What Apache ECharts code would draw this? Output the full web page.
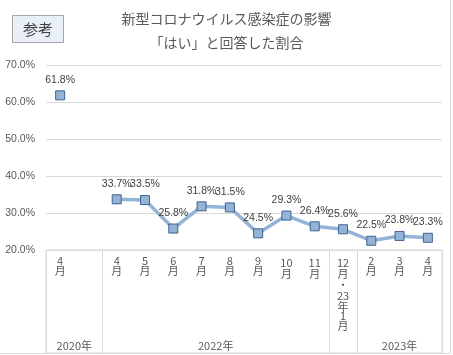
<!DOCTYPE html>
<html>
<head>
<meta charset="utf-8">
<script src="https://cdn.jsdelivr.net/npm/echarts@6/dist/echarts.min.js"></script>
<style>html,body{margin:0;padding:0;background:#fff}#c{width:453px;height:355px}</style>
</head>
<body>
<div id="c"></div>
<script>
// Data
var months = ['4月', '', '4月', '5月', '6月', '7月', '8月', '9月', '10月', '11月', '12月・23年1月', '2月', '3月', '4月'];
var values = [61.8, null, 33.7, 33.5, 25.8, 31.8, 31.5, 24.5, 29.3, 26.4, 25.6, 22.5, 23.8, 23.3];
var groupNames = ['2020年', '2022年', '', '2023年'];
var groupSizes = [2, 8, 1, 3];
var yTicks = [20, 30, 40, 50, 60, 70];
var titleLines = ['新型コロナウイルス感染症の影響', '「はい」と回答した割合'];
var badgeText = '参考';

// derived group boundaries & centres
var boundaries = [0];
var centres = {};
var acc = 0;
groupSizes.forEach(function (s, i) {
  centres[(acc + s / 2).toFixed(1)] = groupNames[i];
  acc += s;
  boundaries.push(acc);
});

function vertical(t) {
  var toks = t.match(/\d+|./g) || [];
  return toks.map(function (k) {
    if (/^\d+$/.test(k)) return '{d' + Math.min(k.length, 2) + '|' + k + '}';
    return '{c|' + k + '}';
  }).join('\n');
}

var CJK = "'Noto Sans CJK JP', sans-serif";
var NUM = "'Liberation Sans', Arial, sans-serif";
var lblBase = {fontFamily: CJK, fontSize: 11, color: '#595959', align: 'center'};

var chart = echarts.init(document.getElementById('c'), null, {renderer: 'canvas'});
chart.setOption({
  animation: false,
  backgroundColor: '#fff',
  title: [{
    text: titleLines.join('\n'),
    left: 'center',
    top: 7,
    padding: 0,
    textStyle: {fontFamily: CJK, fontSize: 14, fontWeight: 'normal', color: '#595959', lineHeight: 24}
  }, {
    text: badgeText,
    left: 12,
    top: 15,
    padding: [6, 11, 6, 11],
    backgroundColor: '#e9eff7',
    borderColor: '#a6a6a6',
    borderWidth: 1,
    textStyle: {fontFamily: CJK, fontSize: 15, fontWeight: 'normal', color: '#404040', lineHeight: 16}
  }],
  graphic: [{
    type: 'rect',
    shape: {x: -1, y: -1, width: 451.5, height: 354.5},
    style: {fill: null, stroke: '#d9d9d9', lineWidth: 1},
    silent: true
  }],
  grid: [
    {left: 46, top: 65, width: 396, height: 185},
    {left: 46, top: 250, width: 396, height: 103, show: true, borderColor: '#d9d9d9', borderWidth: 1, backgroundColor: 'transparent'}
  ],
  xAxis: [{
    type: 'category',
    gridIndex: 0,
    data: months,
    boundaryGap: true,
    axisLine: {show: true, lineStyle: {color: '#d9d9d9'}},
    axisTick: {show: false},
    axisLabel: {
      interval: 0,
      margin: 7,
      fontFamily: CJK,
      fontSize: 11,
      color: '#595959',
      formatter: function (v) { return vertical(v); },
      rich: {
        d1: Object.assign({lineHeight: 8}, lblBase),
        d2: Object.assign({lineHeight: 11}, lblBase),
        c: Object.assign({lineHeight: 11}, lblBase)
      }
    }
  }, {
    type: 'category',
    gridIndex: 1,
    position: 'top',
    data: months,
    boundaryGap: true,
    axisLine: {show: false},
    axisTick: {show: false},
    axisLabel: {show: false},
    splitLine: {
      show: true,
      interval: function (idx) { return boundaries.indexOf(idx) >= 0; },
      lineStyle: {color: '#d9d9d9', width: 1}
    }
  }, {
    type: 'value',
    gridIndex: 1,
    position: 'bottom',
    min: 0,
    max: months.length,
    interval: 0.5,
    axisLine: {show: false},
    axisTick: {show: false},
    splitLine: {show: false},
    axisLabel: {
      inside: true,
      margin: 2,
      fontFamily: CJK,
      fontSize: 11,
      color: '#595959',
      showMinLabel: true,
      showMaxLabel: true,
      formatter: function (v) { var k = (+v).toFixed(1); return centres[k] || ''; }
    }
  }],
  yAxis: [{
    type: 'value',
    gridIndex: 0,
    min: yTicks[0],
    max: yTicks[yTicks.length - 1],
    interval: 10,
    axisLine: {show: false},
    axisTick: {show: false},
    splitLine: {lineStyle: {color: '#d9d9d9', width: 1}},
    axisLabel: {
      margin: 11,
      fontFamily: NUM,
      fontSize: 10.5,
      color: '#595959',
      formatter: function (v) { return v.toFixed(1) + '%'; }
    }
  }, {
    type: 'value',
    gridIndex: 1,
    show: false,
    min: 0,
    max: 1
  }],
  series: [{
    type: 'line',
    xAxisIndex: 0,
    yAxisIndex: 0,
    data: values,
    connectNulls: false,
    symbol: 'rect',
    symbolSize: 9,
    showSymbol: true,
    lineStyle: {color: '#95b3d7', width: 3.5},
    itemStyle: {color: '#95b3d7', borderColor: '#3d6390', borderWidth: 1},
    label: {
      show: true,
      position: 'top',
      distance: 5,
      fontFamily: NUM,
      fontSize: 10.5,
      color: '#404040',
      formatter: function (p) { return p.value == null ? '' : p.value.toFixed(1) + '%'; }
    }
  }]
});
</script>
</body>
</html>
